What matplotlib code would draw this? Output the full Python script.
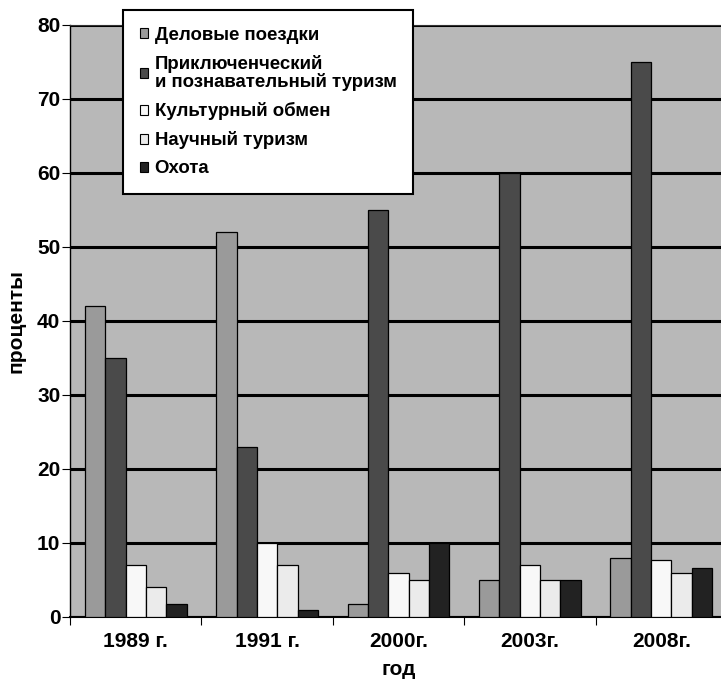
import numpy as np
import matplotlib
matplotlib.use('Agg')
import matplotlib.pyplot as plt
from matplotlib.patches import Patch

plt.rcParams['font.family'] = ['Liberation Sans', 'DejaVu Sans']
plt.rcParams['font.weight'] = 'bold'

# ── данные ─────────────────────────────────────────────────────
years = ['1989 г.', '1991 г.', '2000г.', '2003г.', '2008г.']
series = ['Деловые поездки',
          'Приключенческий\nи познавательный туризм',
          'Культурный обмен',
          'Научный туризм',
          'Охота']
business  = [42, 52, 1.8, 5, 8]
adventure = [35, 23, 55, 60, 75]
culture   = [7, 10, 6, 7, 7.7]
science   = [4, 7, 5, 5, 6]
hunting   = [1.8, 1, 10, 5, 6.6]
values = [business, adventure, culture, science, hunting]
colors = ['#9A9A9A', '#4A4A4A', '#F8F8F8', '#EBEBEB', '#222222']

# ── рисунок ────────────────────────────────────────────────────
fig = plt.figure(figsize=(7.21, 6.79), dpi=100, facecolor='white')
ax = fig.add_axes([70/721, 62/679, 657/721, 592/679])
ax.set_facecolor('#B8B8B8')

x = np.arange(len(years))
w = 0.155
for i, (vals, c) in enumerate(zip(values, colors)):
    ax.bar(x + (i - 2) * w, vals, w, color=c, edgecolor='black',
           lw=0.9, zorder=3)

ax.set_xlim(-0.5, len(years) - 0.5)
ax.set_ylim(0, 80)
ax.set_yticks(range(0, 81, 10))
ax.yaxis.grid(True, color='black', lw=2.2, zorder=1)
ax.set_axisbelow(True)

ax.set_xticks(x)
ax.set_xticklabels(years, fontsize=15, fontweight='bold')
ax.set_xticks(np.arange(-0.5, len(years)), minor=True)
ax.tick_params(axis='x', which='major', length=0, pad=11)
ax.tick_params(axis='x', which='minor', length=6, width=0.8)
ax.tick_params(axis='y', length=6, width=0.8, labelsize=15, pad=1)
for t in ax.get_yticklabels():
    t.set_fontweight('bold')

ax.spines['right'].set_visible(False)
ax.spines['top'].set_color('#333333')
ax.spines['left'].set_color('black')
ax.spines['bottom'].set_color('black')
ax.spines['left'].set_lw(1.0)
ax.spines['bottom'].set_lw(1.5)

ax.set_xlabel('год', fontsize=15, fontweight='bold', labelpad=6)
ax.set_ylabel('проценты', fontsize=15, fontweight='bold', labelpad=8)

handles = [Patch(facecolor=c, edgecolor='black', lw=0.8) for c in colors]
leg = fig.legend(handles, series, loc='upper left',
                 bbox_to_anchor=(123/721, 1 - 10/679),
                 fontsize=13.4, frameon=True, fancybox=False,
                 edgecolor='black', framealpha=1,
                 handlelength=0.45, handleheight=0.45, handletextpad=0.35,
                 labelspacing=0.6, borderpad=0.9, borderaxespad=0)
leg.get_frame().set_linewidth(1.5)
for t in leg.get_texts():
    t.set_fontweight('bold')
    t.set_linespacing(1.0)

fig.savefig('out.png', dpi=100, facecolor='white')
